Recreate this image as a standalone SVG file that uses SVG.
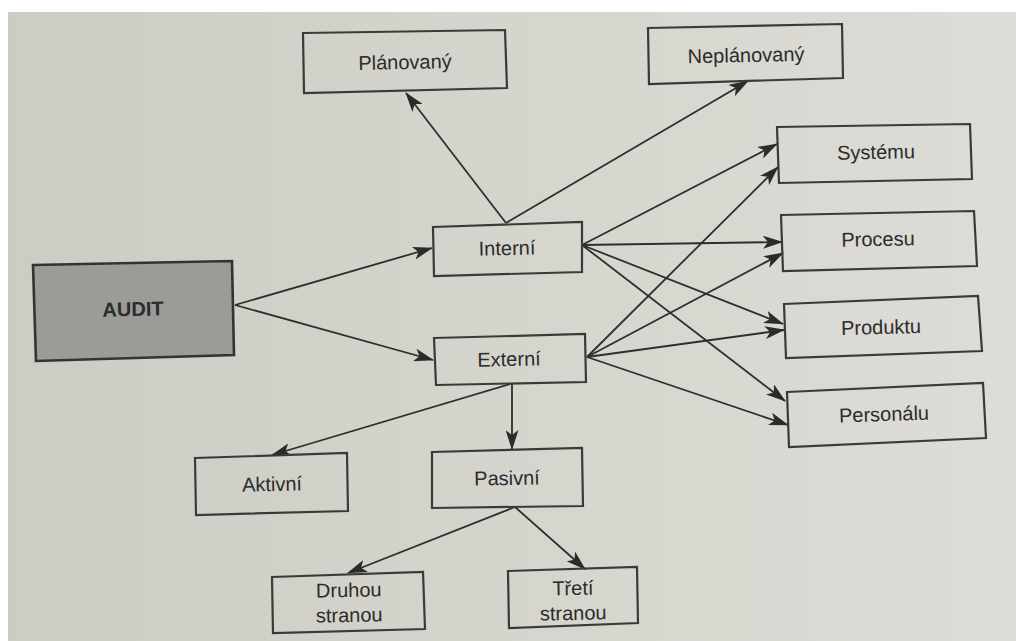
<svg xmlns="http://www.w3.org/2000/svg" width="1016" height="641" viewBox="0 0 1016 641">
<defs>
<linearGradient id="paper" x1="0" y1="0" x2="1" y2="0">
<stop offset="0" stop-color="#cdccc4"/>
<stop offset="1" stop-color="#dddcd6"/>
</linearGradient>
<marker id="ah" viewBox="0 0 20 13" markerWidth="20" markerHeight="13" refX="19" refY="6.5" orient="auto" markerUnits="userSpaceOnUse">
<path d="M0,0 L20,6.5 L0,13 L5,6.5 Z" fill="#2b2b2b"/>
</marker>
<style>
.box{fill:none;stroke:#3a3a3a;stroke-width:2.2}
.lbl{font-family:"Liberation Sans",Arial,sans-serif;font-size:20px;fill:#2c2c2c;text-anchor:middle}
.edge{stroke:#2e2e2e;stroke-width:1.8;fill:none;marker-end:url(#ah)}
</style>
</defs>
<rect x="0" y="0" width="1016" height="641" fill="#ffffff"/>
<rect x="8" y="12" width="1008" height="629" fill="url(#paper)"/>

<g id="connectors">
<line class="edge" x1="235" y1="305" x2="432" y2="248"/>
<line class="edge" x1="235" y1="305" x2="433" y2="360"/>
<line class="edge" x1="506" y1="223" x2="406" y2="93"/>
<line class="edge" x1="506" y1="223" x2="748" y2="81"/>
<line class="edge" x1="582" y1="245" x2="777" y2="144"/>
<line class="edge" x1="582" y1="245" x2="782" y2="242"/>
<line class="edge" x1="582" y1="245" x2="783" y2="324"/>
<line class="edge" x1="582" y1="245" x2="785" y2="401"/>
<line class="edge" x1="587" y1="357" x2="778" y2="167"/>
<line class="edge" x1="587" y1="357" x2="783" y2="253"/>
<line class="edge" x1="587" y1="357" x2="784" y2="330"/>
<line class="edge" x1="587" y1="357" x2="788" y2="425"/>
<line class="edge" x1="510" y1="384" x2="272" y2="455"/>
<line class="edge" x1="512" y1="384" x2="512" y2="449"/>
<line class="edge" x1="515" y1="507" x2="348" y2="573"/>
<line class="edge" x1="515" y1="507" x2="585" y2="569"/>
</g>

<g id="audit">
<polygon points="33,265 232,261 234,355 36,361" fill="#9b9b97" stroke="#333" stroke-width="2.6"/>
<text class="lbl" x="133" y="316" font-weight="bold" font-size="21" transform="rotate(-1.2 133 309)">AUDIT</text>
</g>
<g id="planovany">
<polygon class="box" points="303,33 505,30 507,88 304,93"/>
<text class="lbl" x="405" y="69" transform="rotate(-1.2 405 62)">Plánovaný</text>
</g>
<g id="neplanovany">
<polygon class="box" points="648,28 842,24 843,78 649,84"/>
<text class="lbl" x="746" y="62" transform="rotate(-1.2 746 55)">Neplánovaný</text>
</g>
<g id="systemu">
<polygon class="box" points="777,127 970,124 972,179 779,183"/>
<text class="lbl" x="876" y="159" transform="rotate(-1.2 876 152)">Systému</text>
</g>
<g id="procesu">
<polygon class="box" points="781,215 974,211 977,266 783,271"/>
<text class="lbl" x="878" y="246" transform="rotate(-1.2 878 239)">Procesu</text>
</g>
<g id="produktu">
<polygon class="box" points="784,304 978,296 982,351 786,358"/>
<text class="lbl" x="881" y="334" transform="rotate(-1.5 881 327)">Produktu</text>
</g>
<g id="personalu">
<polygon class="box" points="787,392 983,383 986,438 789,447"/>
<text class="lbl" x="884" y="421" transform="rotate(-1.8 884 414)">Personálu</text>
</g>
<g id="interni">
<polygon class="box" points="433,227 582,222 582,272 434,276"/>
<text class="lbl" x="507" y="255" transform="rotate(-1.2 507 248)">Interní</text>
</g>
<g id="externi">
<polygon class="box" points="434,338 585,334 586,382 436,385"/>
<text class="lbl" x="509" y="366" transform="rotate(-1.2 509 359)">Externí</text>
</g>
<g id="aktivni">
<polygon class="box" points="195,458 347,453 348,511 196,515"/>
<text class="lbl" x="272" y="491" transform="rotate(-1.2 272 484)">Aktivní</text>
</g>
<g id="pasivni">
<polygon class="box" points="432,452 582,448 583,506 432,508"/>
<text class="lbl" x="507" y="485" transform="rotate(-1 507 478)">Pasivní</text>
</g>
<g id="druhou">
<polygon class="box" points="272,577 423,572 425,629 273,633"/>
<text class="lbl" transform="rotate(-1 349 602)"><tspan x="349" y="597">Druhou</tspan><tspan x="349" y="622">stranou</tspan></text>
</g>
<g id="treti">
<polygon class="box" points="508,571 637,567 638,623 509,628"/>
<text class="lbl" transform="rotate(-1 573 598)"><tspan x="573" y="595">Třetí</tspan><tspan x="573" y="620">stranou</tspan></text>
</g>
</svg>
